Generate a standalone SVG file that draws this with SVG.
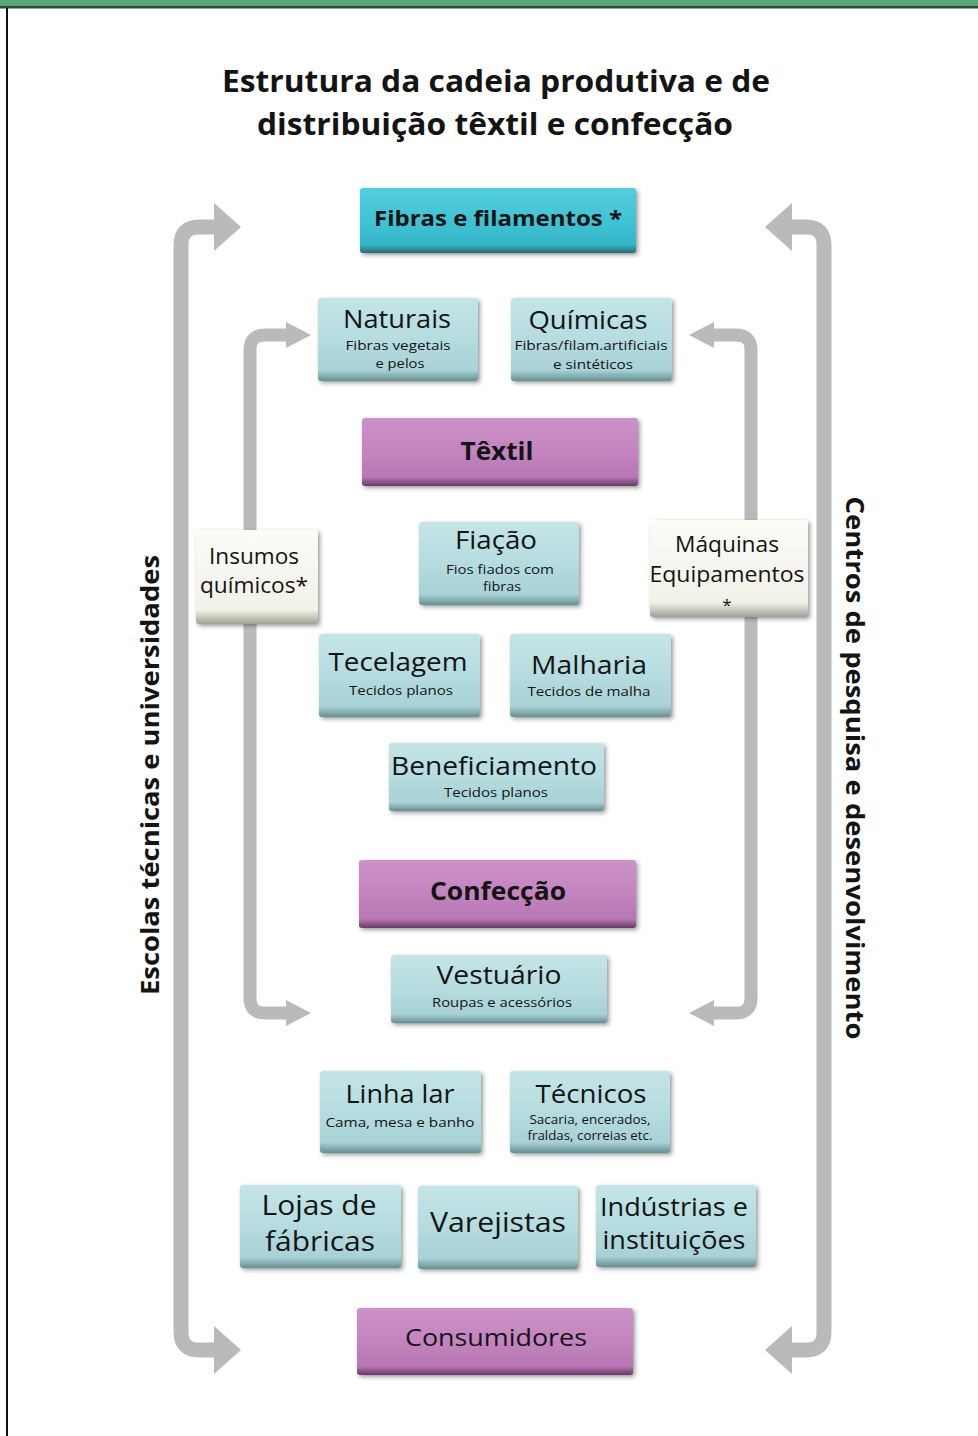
<svg xmlns="http://www.w3.org/2000/svg" width="978" height="1436" viewBox="0 0 978 1436">
  <defs>
    <linearGradient id="gBlue" x1="0" y1="0" x2="0" y2="1">
      <stop offset="0" stop-color="#c4e5e7"/>
      <stop offset="0.5" stop-color="#b5dcdf"/>
      <stop offset="0.87" stop-color="#a8d2d6"/>
      <stop offset="1" stop-color="#668f94"/>
    </linearGradient>
    <linearGradient id="gPurple" x1="0" y1="0" x2="0" y2="1">
      <stop offset="0" stop-color="#cd92c9"/>
      <stop offset="0.5" stop-color="#c384bf"/>
      <stop offset="0.87" stop-color="#b876b4"/>
      <stop offset="1" stop-color="#663a63"/>
    </linearGradient>
    <linearGradient id="gCyan" x1="0" y1="0" x2="0" y2="1">
      <stop offset="0" stop-color="#55cddd"/>
      <stop offset="0.5" stop-color="#40c3d6"/>
      <stop offset="0.87" stop-color="#35b6c9"/>
      <stop offset="1" stop-color="#2a6a73"/>
    </linearGradient>
    <linearGradient id="gWhite" x1="0" y1="0" x2="0" y2="1">
      <stop offset="0" stop-color="#fcfcf8"/>
      <stop offset="0.85" stop-color="#f1f1e8"/>
      <stop offset="1" stop-color="#a0a094"/>
    </linearGradient>
    <filter id="shadow" x="-10%" y="-10%" width="125%" height="135%">
      <feDropShadow dx="2" dy="2" stdDeviation="2" flood-color="#222" flood-opacity="0.45"/>
    </filter>
  </defs>
  <style>
    text { font-family: "Open Sans", "Liberation Sans", sans-serif; fill: #141414; text-anchor: middle; }
    .b { font-weight: bold; }
    .box { filter: url(#shadow); }
    .lb { fill: url(#gBlue); }
    .pu { fill: url(#gPurple); }
    .cy { fill: url(#gCyan); }
    .wh { fill: url(#gWhite); }
    .t { font-size: 26px; }
    .s { font-size: 13px; }
    .bar { fill: none; stroke: #b8babc; stroke-linejoin: round; }
    .head { fill: #b8babc; }
  </style>

  <!-- frame -->
  <rect x="0" y="0" width="978" height="1436" fill="#ffffff"/>
  <rect x="0" y="0" width="978" height="6" fill="#58a878"/>
  <rect x="0" y="6" width="978" height="2.5" fill="#2d4a3c"/>
  <rect x="6" y="8" width="2" height="1428" fill="#111"/>

  <!-- title -->
  <g id="title">
    <text class="b" x="496" y="92" font-size="31" textLength="548" lengthAdjust="spacingAndGlyphs">Estrutura da cadeia produtiva e de</text>
    <text class="b" x="495" y="135" font-size="31" textLength="476" lengthAdjust="spacingAndGlyphs">distribuição têxtil e confecção</text>
  </g>

  <!-- connectors -->
  <g id="connectors">
    <path class="bar" stroke-width="15" d="M216,227 H199 Q181,227 181,245 V1332 Q181,1350 199,1350 H216"/>
    <polygon class="head" points="214,203 241,227 214,251"/>
    <polygon class="head" points="214,1326 241,1350 214,1374"/>

    <path class="bar" stroke-width="15" d="M790,227 H806 Q824,227 824,245 V1332 Q824,1350 806,1350 H790"/>
    <polygon class="head" points="792,203 765,227 792,251"/>
    <polygon class="head" points="792,1326 765,1350 792,1374"/>

    <path class="bar" stroke-width="13" d="M288,335 H265 Q250,335 250,350 V998 Q250,1013 265,1013 H288"/>
    <polygon class="head" points="286,322 311,335 286,348"/>
    <polygon class="head" points="286,1000 311,1013 286,1026"/>

    <path class="bar" stroke-width="13" d="M712,335 H736 Q751,335 751,350 V998 Q751,1013 736,1013 H712"/>
    <polygon class="head" points="714,322 689,335 714,348"/>
    <polygon class="head" points="714,1000 689,1013 714,1026"/>
  </g>

  <!-- side labels -->
  <g id="label-escolas">
    <text class="b" transform="translate(159,775) rotate(-90)" font-size="25" textLength="440" lengthAdjust="spacingAndGlyphs">Escolas técnicas e universidades</text>
  </g>
  <g id="label-centros">
    <text class="b" transform="translate(846,768) rotate(90)" font-size="25" textLength="543" lengthAdjust="spacingAndGlyphs">Centros de pesquisa e desenvolvimento</text>
  </g>

  <!-- nodes -->
  <g id="n-fibras">
    <rect class="box cy" x="360" y="188" width="276" height="65" rx="3"/>
    <text class="b" x="498" y="226" font-size="22" textLength="248" lengthAdjust="spacingAndGlyphs">Fibras e filamentos *</text>
  </g>
  <g id="n-naturais">
    <rect class="box lb" x="318" y="298" width="160" height="83" rx="3"/>
    <text class="t" x="397" y="328" textLength="108" lengthAdjust="spacingAndGlyphs">Naturais</text>
    <text class="s" x="398" y="350" textLength="105" lengthAdjust="spacingAndGlyphs">Fibras vegetais</text>
    <text class="s" x="400" y="368" textLength="49" lengthAdjust="spacingAndGlyphs">e pelos</text>
  </g>
  <g id="n-quimicas">
    <rect class="box lb" x="511" y="298" width="161" height="83" rx="3"/>
    <text class="t" x="588" y="329" textLength="119" lengthAdjust="spacingAndGlyphs">Químicas</text>
    <text class="s" x="591" y="350" textLength="153" lengthAdjust="spacingAndGlyphs">Fibras/filam.artificiais</text>
    <text class="s" x="593" y="369" textLength="80" lengthAdjust="spacingAndGlyphs">e sintéticos</text>
  </g>
  <g id="n-textil">
    <rect class="box pu" x="362" y="418" width="276" height="68" rx="3"/>
    <text class="b" x="497" y="460" font-size="25" textLength="73" lengthAdjust="spacingAndGlyphs">Têxtil</text>
  </g>
  <g id="n-insumos">
    <rect class="box wh" x="196" y="530" width="122" height="94" rx="3"/>
    <text x="254" y="564" font-size="21" textLength="90" lengthAdjust="spacingAndGlyphs">Insumos</text>
    <text x="254" y="593" font-size="21" textLength="108" lengthAdjust="spacingAndGlyphs">químicos*</text>
  </g>
  <g id="n-fiacao">
    <rect class="box lb" x="419" y="522" width="160" height="83" rx="3"/>
    <text class="t" x="496" y="549" textLength="82" lengthAdjust="spacingAndGlyphs">Fiação</text>
    <text class="s" x="500" y="574" textLength="108" lengthAdjust="spacingAndGlyphs">Fios fiados com</text>
    <text class="s" x="502" y="591" textLength="38" lengthAdjust="spacingAndGlyphs">fibras</text>
  </g>
  <g id="n-maquinas">
    <rect class="box wh" x="650" y="520" width="158" height="97" rx="3"/>
    <text x="727" y="552" font-size="21" textLength="104" lengthAdjust="spacingAndGlyphs">Máquinas</text>
    <text x="727" y="582" font-size="21" textLength="155" lengthAdjust="spacingAndGlyphs">Equipamentos</text>
    <text x="727" y="611" font-size="17">*</text>
  </g>
  <g id="n-tecelagem">
    <rect class="box lb" x="319" y="634" width="161" height="83" rx="3"/>
    <text class="t" x="398" y="671" textLength="139" lengthAdjust="spacingAndGlyphs">Tecelagem</text>
    <text class="s" x="401" y="695" textLength="104" lengthAdjust="spacingAndGlyphs">Tecidos planos</text>
  </g>
  <g id="n-malharia">
    <rect class="box lb" x="510" y="634" width="161" height="83" rx="3"/>
    <text class="t" x="589" y="674" textLength="116" lengthAdjust="spacingAndGlyphs">Malharia</text>
    <text class="s" x="589" y="696" textLength="123" lengthAdjust="spacingAndGlyphs">Tecidos de malha</text>
  </g>
  <g id="n-beneficiamento">
    <rect class="box lb" x="389" y="743" width="215" height="68" rx="3"/>
    <text class="t" x="494" y="775" textLength="206" lengthAdjust="spacingAndGlyphs">Beneficiamento</text>
    <text class="s" x="496" y="797" textLength="104" lengthAdjust="spacingAndGlyphs">Tecidos planos</text>
  </g>
  <g id="n-confeccao">
    <rect class="box pu" x="359" y="860" width="277" height="68" rx="3"/>
    <text class="b" x="498" y="900" font-size="25" textLength="136" lengthAdjust="spacingAndGlyphs">Confecção</text>
  </g>
  <g id="n-vestuario">
    <rect class="box lb" x="391" y="955" width="216" height="68" rx="3"/>
    <text class="t" x="499" y="984" textLength="125" lengthAdjust="spacingAndGlyphs">Vestuário</text>
    <text class="s" x="502" y="1007" textLength="140" lengthAdjust="spacingAndGlyphs">Roupas e acessórios</text>
  </g>
  <g id="n-linhalar">
    <rect class="box lb" x="320" y="1071" width="161" height="82" rx="3"/>
    <text class="t" x="400" y="1103" textLength="109" lengthAdjust="spacingAndGlyphs">Linha lar</text>
    <text class="s" x="400" y="1127" textLength="149" lengthAdjust="spacingAndGlyphs">Cama, mesa e banho</text>
  </g>
  <g id="n-tecnicos">
    <rect class="box lb" x="510" y="1071" width="160" height="82" rx="3"/>
    <text class="t" x="591" y="1103" textLength="111" lengthAdjust="spacingAndGlyphs">Técnicos</text>
    <text x="590" y="1124" font-size="12" textLength="121" lengthAdjust="spacingAndGlyphs">Sacaria, encerados,</text>
    <text x="590" y="1140" font-size="12" textLength="125" lengthAdjust="spacingAndGlyphs">fraldas, correias etc.</text>
  </g>
  <g id="n-lojas">
    <rect class="box lb" x="240" y="1185" width="161" height="83" rx="3"/>
    <text x="319" y="1215" font-size="28" textLength="115" lengthAdjust="spacingAndGlyphs">Lojas de</text>
    <text x="320" y="1251" font-size="28" textLength="110" lengthAdjust="spacingAndGlyphs">fábricas</text>
  </g>
  <g id="n-varejistas">
    <rect class="box lb" x="418" y="1186" width="160" height="83" rx="3"/>
    <text x="498" y="1232" font-size="28" textLength="136" lengthAdjust="spacingAndGlyphs">Varejistas</text>
  </g>
  <g id="n-industrias">
    <rect class="box lb" x="596" y="1185" width="160" height="82" rx="3"/>
    <text x="674" y="1216" font-size="26" textLength="148" lengthAdjust="spacingAndGlyphs">Indústrias e</text>
    <text x="674" y="1249" font-size="26" textLength="143" lengthAdjust="spacingAndGlyphs">instituições</text>
  </g>
  <g id="n-consumidores">
    <rect class="box pu" x="357" y="1308" width="276" height="67" rx="3"/>
    <text x="496" y="1346" font-size="24" textLength="182" lengthAdjust="spacingAndGlyphs">Consumidores</text>
  </g>
</svg>
